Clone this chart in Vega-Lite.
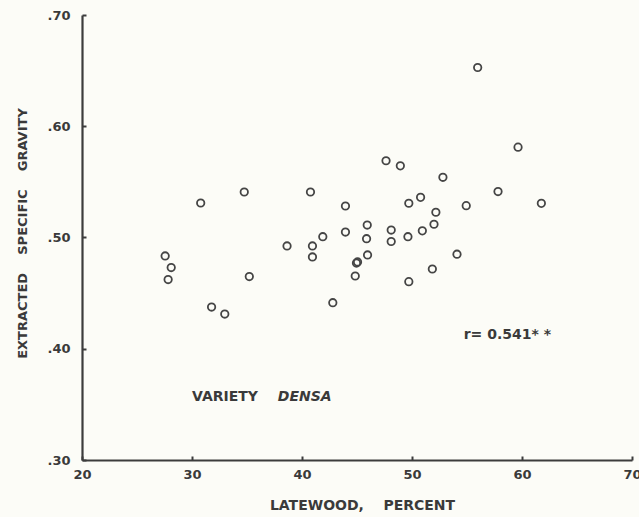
{
  "$schema": "https://vega.github.io/schema/vega-lite/v6.json",
  "autosize": "none",
  "width": 550,
  "height": 445,
  "padding": {"left": 82, "top": 15, "right": 7, "bottom": 57},
  "background": "#fcfcf7",
  "config": {
    "view": {"stroke": null},
    "font": "DejaVu Sans"
  },
  "datasets": {
    "pts": [
      {"latewood": 27.56, "sg": 0.4834},
      {"latewood": 28.11, "sg": 0.4730},
      {"latewood": 27.83, "sg": 0.4622},
      {"latewood": 30.79, "sg": 0.5310},
      {"latewood": 31.78, "sg": 0.4375},
      {"latewood": 32.98, "sg": 0.4312},
      {"latewood": 34.75, "sg": 0.5409},
      {"latewood": 35.21, "sg": 0.4649},
      {"latewood": 38.64, "sg": 0.4924},
      {"latewood": 40.77, "sg": 0.5409},
      {"latewood": 40.95, "sg": 0.4924},
      {"latewood": 40.95, "sg": 0.4825},
      {"latewood": 41.89, "sg": 0.5007},
      {"latewood": 42.80, "sg": 0.4414},
      {"latewood": 43.95, "sg": 0.5283},
      {"latewood": 43.95, "sg": 0.5049},
      {"latewood": 44.84, "sg": 0.4654},
      {"latewood": 44.95, "sg": 0.4770},
      {"latewood": 45.05, "sg": 0.4780},
      {"latewood": 45.93, "sg": 0.5112},
      {"latewood": 45.87, "sg": 0.4989},
      {"latewood": 45.96, "sg": 0.4843},
      {"latewood": 47.64, "sg": 0.5690},
      {"latewood": 48.94, "sg": 0.5644},
      {"latewood": 48.11, "sg": 0.5067},
      {"latewood": 48.11, "sg": 0.4964},
      {"latewood": 49.63, "sg": 0.5007},
      {"latewood": 49.71, "sg": 0.5308},
      {"latewood": 49.71, "sg": 0.4603},
      {"latewood": 50.78, "sg": 0.5361},
      {"latewood": 50.94, "sg": 0.5060},
      {"latewood": 51.85, "sg": 0.4717},
      {"latewood": 52.00, "sg": 0.5119},
      {"latewood": 52.17, "sg": 0.5227},
      {"latewood": 52.81, "sg": 0.5541},
      {"latewood": 54.09, "sg": 0.4850},
      {"latewood": 54.93, "sg": 0.5286},
      {"latewood": 55.97, "sg": 0.6528},
      {"latewood": 57.82, "sg": 0.5413},
      {"latewood": 59.64, "sg": 0.5812},
      {"latewood": 61.76, "sg": 0.5307}
    ],
    "notes": [
      {"x": 30.0, "y": 0.3570, "label": "VARIETY"},
      {"x": 54.7, "y": 0.4120, "label": "r= 0.541*\u00a0*"}
    ],
    "notesItalic": [
      {"x": 37.8, "y": 0.3570, "label": "DENSA"}
    ]
  },
  "layer": [
    {
      "data": {"name": "pts"},
      "mark": {"type": "point", "shape": "circle", "filled": false, "size": 55, "strokeWidth": 1.8, "color": "#454545", "opacity": 1},
      "encoding": {
        "x": {
          "field": "latewood", "type": "quantitative",
          "scale": {"domain": [20, 70], "nice": false, "zero": false},
          "axis": {
            "values": [20, 30, 40, 50, 60, 70],
            "grid": false,
            "tickSize": -4, "tickWidth": 2, "tickColor": "#3c3c3c",
            "domainColor": "#3c3c3c", "domainWidth": 2.2,
            "labelFont": "DejaVu Sans", "labelFontWeight": "bold", "labelFontSize": 13,
            "labelColor": "#3a3a3a", "labelPadding": 12, "labelFlush": false,
            "title": "LATEWOOD,\u00a0\u00a0\u00a0 PERCENT",
            "titleFont": "DejaVu Sans", "titleFontWeight": "bold", "titleFontSize": 14,
            "titleColor": "#3a3a3a",
            "titleX": 280, "titleY": 45, "titleAlign": "center", "titleBaseline": "middle"
          }
        },
        "y": {
          "field": "sg", "type": "quantitative",
          "scale": {"domain": [0.3, 0.7], "nice": false, "zero": false},
          "axis": {
            "values": [0.3, 0.4, 0.5, 0.6, 0.7],
            "labelExpr": "substring(format(datum.value, '.2f'), 1)",
            "grid": false,
            "tickSize": -4, "tickWidth": 2, "tickColor": "#3c3c3c",
            "domainColor": "#3c3c3c", "domainWidth": 2.2,
            "labelFont": "DejaVu Sans", "labelFontWeight": "bold", "labelFontSize": 13,
            "labelColor": "#3a3a3a", "labelPadding": 16, "labelFlush": false,
            "title": "EXTRACTED\u00a0\u00a0\u00a0 SPECIFIC\u00a0\u00a0\u00a0 GRAVITY",
            "titleFont": "DejaVu Sans", "titleFontWeight": "bold", "titleFontSize": 13,
            "titleColor": "#3a3a3a",
            "titleAngle": 270, "titleX": -60, "titleY": 218,
            "titleAlign": "center", "titleBaseline": "middle"
          }
        }
      }
    },
    {
      "data": {"name": "notes"},
      "mark": {"type": "text", "align": "left", "baseline": "middle", "font": "DejaVu Sans", "fontWeight": "bold", "fontSize": 14, "color": "#3a3a3a"},
      "encoding": {
        "x": {"field": "x", "type": "quantitative"},
        "y": {"field": "y", "type": "quantitative"},
        "text": {"field": "label"}
      }
    },
    {
      "data": {"name": "notesItalic"},
      "mark": {"type": "text", "align": "left", "baseline": "middle", "font": "DejaVu Sans", "fontWeight": "bold", "fontStyle": "italic", "fontSize": 14, "color": "#3a3a3a"},
      "encoding": {
        "x": {"field": "x", "type": "quantitative"},
        "y": {"field": "y", "type": "quantitative"},
        "text": {"field": "label"}
      }
    }
  ]
}
